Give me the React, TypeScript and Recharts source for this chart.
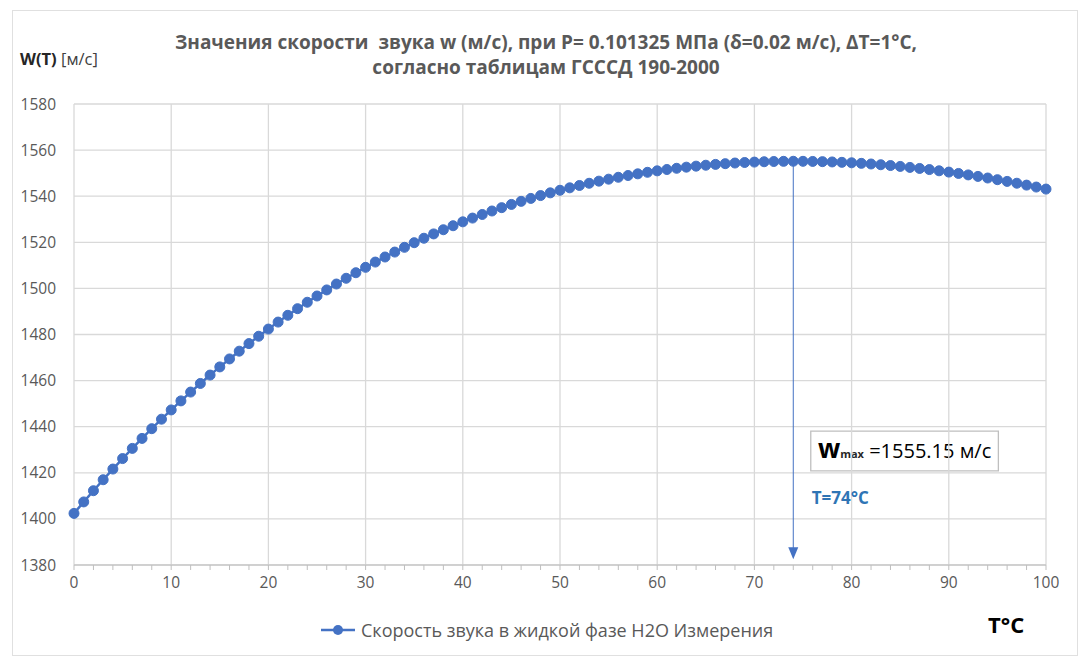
import {
  CartesianGrid,
  Line,
  LineChart,
  ReferenceArea,
  ReferenceDot,
  ReferenceLine,
  XAxis,
  YAxis,
} from 'recharts';

// temperature, °C (step 1)
const temps = Array.from({ length: 101 }, (_, i) => i);

// speed of sound in liquid water, m/s
const speeds = [
  1402.39, 1407.37, 1412.23, 1416.99, 1421.63, 1426.17, 1430.59, 1434.92, 1439.14, 1443.26,
  1447.28, 1451.2, 1455.03, 1458.76, 1462.4, 1465.94, 1469.4, 1472.77, 1476.05, 1479.25,
  1482.36, 1485.39, 1488.33, 1491.2, 1493.99, 1496.7, 1499.34, 1501.9, 1504.39, 1506.8,
  1509.14, 1511.42, 1513.62, 1515.76, 1517.82, 1519.83, 1521.76, 1523.64, 1525.45, 1527.19,
  1528.88, 1530.51, 1532.07, 1533.58, 1535.03, 1536.43, 1537.76, 1539.04, 1540.27, 1541.45,
  1542.57, 1543.63, 1544.65, 1545.61, 1546.53, 1547.39, 1548.21, 1548.98, 1549.7, 1550.37,
  1551.0, 1551.58, 1552.11, 1552.6, 1553.04, 1553.44, 1553.8, 1554.11, 1554.39, 1554.62,
  1554.8, 1554.95, 1555.05, 1555.12, 1555.15, 1555.13, 1555.08, 1554.99, 1554.86, 1554.69,
  1554.49, 1554.25, 1553.97, 1553.65, 1553.3, 1552.92, 1552.49, 1552.04, 1551.55, 1551.02,
  1550.46, 1549.87, 1549.24, 1548.59, 1547.89, 1547.17, 1546.42, 1545.63, 1544.81, 1543.97,
  1543.09,
];

const yTicks = [1380, 1400, 1420, 1440, 1460, 1480, 1500, 1520, 1540, 1560, 1580];
const xMajorTicks = [0, 10, 20, 30, 40, 50, 60, 70, 80, 90, 100];
const xMinorTicks = Array.from({ length: 51 }, (_, i) => i * 2);

const seriesName = 'Скорость звука в жидкой фазе H2O Измерения';
const titleLines = [
  'Значения скорости  звука w (м/с), при P= 0.101325 МПа (δ=0.02 м/с), ΔT=1°C,',
  'согласно таблицам ГСССД 190-2000',
];

const tMax = 74;
const wMax = 1555.15;
// annotation box & label anchor in data units
const boxX = [75.8, 95.1];
const boxY = [1420.8, 1438.1];
const tLabelAt = { x: 75.9, y: 1409 };

const data = temps.map((t, i) => ({ t, w: speeds[i] }));

const FONT = '"Open Sans", "Noto Sans", sans-serif';
const BLUE = '#4472C4';
const GRID = '#d9d9d9';
const TEXT = '#595959';

const XTick = (props: any) => {
  const { x, y, payload } = props;
  if (payload.value % 10 !== 0) return null;
  return (
    <text x={x} y={y} dy={12} textAnchor="middle" fill={TEXT} fontSize={15.5} fontFamily={FONT}>
      {payload.value}
    </text>
  );
};

const Arrow = (props: any) => {
  const { x1, y1, x2, y2 } = props;
  return (
    <g>
      <line x1={x1} y1={y1} x2={x2} y2={y2 - 10} stroke={BLUE} strokeWidth={1} />
      <path d={`M${x2 - 5},${y2 - 12} L${x2 + 5},${y2 - 12} L${x2},${y2} Z`} fill={BLUE} />
    </g>
  );
};

const BoxLabel = (props: any) => {
  const { x, y, width, height } = props.viewBox;
  return (
    <text
      x={x + width / 2}
      y={y + height / 2 + 7}
      textAnchor="middle"
      fontFamily={FONT}
      fill="#000"
    >
      <tspan fontSize={26} fontWeight="bold">w</tspan>
      <tspan fontSize={11} fontWeight="bold" fill="#262626">max</tspan>
      <tspan fontSize={20} fill="#000"> =1555.15 м/с</tspan>
    </text>
  );
};

const TLabel = (props: any) => (
  <text
    x={props.cx}
    y={props.cy}
    dy={6}
    fill="#2F75B5"
    fontSize={17}
    fontWeight="bold"
    fontFamily={FONT}
  >
    T=74°C
  </text>
);

export default function App() {
  return (
    <div
      style={{
        position: 'absolute',
        left: 12,
        top: 10,
        width: 1066,
        height: 646,
        border: '1px solid #e0e0e0',
        boxSizing: 'border-box',
        background: '#fff',
        fontFamily: FONT,
      }}
    >
      <div
        style={{
          position: 'absolute',
          left: 0,
          top: 19,
          width: 1066,
          textAlign: 'center',
          color: TEXT,
          fontWeight: 'bold',
          fontSize: 19,
          lineHeight: '25px',
          whiteSpace: 'pre',
        }}
      >
        {titleLines.map((l) => (
          <div key={l}>{l}</div>
        ))}
      </div>
      <div style={{ position: 'absolute', left: 7, top: 37, fontSize: 16.5, lineHeight: '22px', color: '#262626' }}>
        <b>W(T)</b> <span style={{ color: '#404040' }}>[м/с]</span>
      </div>
      <LineChart width={1064} height={644} data={data} margin={{ top: 93, right: 31, bottom: 0, left: 0 }}>
        <CartesianGrid vertical={false} stroke={GRID} strokeWidth={1.3} />
        {xMajorTicks.map((v) => (
          <ReferenceLine key={v} x={v} stroke={GRID} strokeWidth={1.3} />
        ))}
        <XAxis
          dataKey="t"
          type="number"
          domain={[0, 100]}
          ticks={xMinorTicks}
          interval={0}
          tick={<XTick />}
          tickSize={5}
          tickMargin={6}
          stroke="#bfbfbf"
          height={90}
        />
        <YAxis
          type="number"
          domain={[1380, 1580]}
          ticks={yTicks}
          interval={0}
          width={61}
          axisLine={false}
          tickLine={false}
          tickMargin={12}
          tick={{ fill: TEXT, fontSize: 15.5, fontFamily: FONT }}
        />
        <ReferenceArea
          x1={boxX[0]}
          x2={boxX[1]}
          y1={boxY[0]}
          y2={boxY[1]}
          fill="#fff"
          fillOpacity={1}
          stroke="#bfbfbf"
          strokeWidth={1.3}
          label={<BoxLabel />}
        />
        <ReferenceDot x={tLabelAt.x} y={tLabelAt.y} r={0} shape={<TLabel />} />
        <ReferenceLine
          segment={[
            { x: tMax, y: wMax },
            { x: tMax, y: 1382.5 },
          ]}
          shape={<Arrow />}
        />
        <Line
          dataKey="w"
          name={seriesName}
          stroke={BLUE}
          strokeWidth={2.5}
          dot={{ r: 5, fill: BLUE, stroke: BLUE, strokeWidth: 1 }}
          isAnimationActive={false}
        />
      </LineChart>
      <div
        style={{
          position: 'absolute',
          left: 308,
          top: 607,
          display: 'flex',
          alignItems: 'center',
          fontSize: 18,
          color: TEXT,
          whiteSpace: 'nowrap',
        }}
      >
        <svg width={36} height={12} style={{ marginRight: 4 }}>
          <line x1={0} y1={6} x2={34} y2={6} stroke={BLUE} strokeWidth={2.5} />
          <circle cx={17} cy={6} r={5} fill={BLUE} />
        </svg>
        <span>{seriesName}</span>
      </div>
      <div
        style={{
          position: 'absolute',
          left: 975,
          top: 600,
          fontSize: 22,
          fontWeight: 'bold',
          color: '#000',
          lineHeight: '26px',
        }}
      >
        T°C
      </div>
    </div>
  );
}
